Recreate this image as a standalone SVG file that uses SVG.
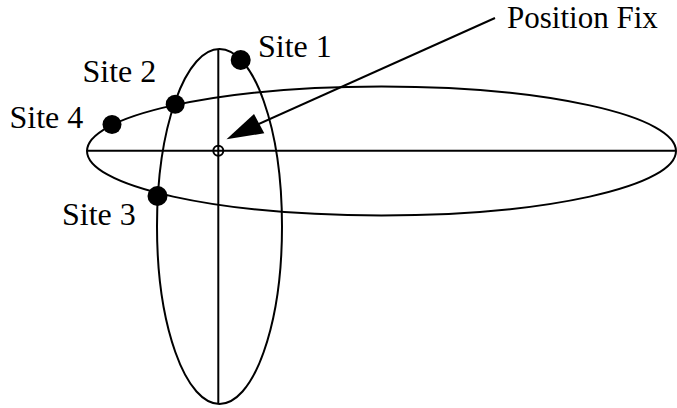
<svg xmlns="http://www.w3.org/2000/svg" width="677" height="408" viewBox="0 0 677 408">
<style>
.ln{fill:none;stroke:#000;stroke-width:2}
.dot{fill:#000}
.lbl{font-family:"Liberation Serif","Times New Roman",serif;font-size:32px;fill:#000}
</style>
<rect width="677" height="408" fill="#fff"/>
<g id="ellipses">
<ellipse id="ellipse-vertical" class="ln" cx="219.5" cy="226.5" rx="62.5" ry="177.5"/>
<ellipse id="ellipse-horizontal" class="ln" cx="381.5" cy="151" rx="294.5" ry="64.5"/>
</g>
<g id="connectors">
<line class="ln" x1="218.3" y1="49" x2="218.3" y2="404"/>
<line class="ln" x1="87" y1="150.7" x2="676" y2="150.7"/>
<line class="ln" x1="495" y1="18" x2="250" y2="128"/>
<polygon class="dot" points="226.5,139.3 254,114 264.3,133.3"/>
</g>
<g id="position-fix">
<circle class="ln" cx="218.3" cy="150.7" r="5"/>
<text class="lbl" x="507" y="28" style="font-size:31px">Position Fix</text>
</g>
<g id="site1">
<circle class="dot" cx="240.7" cy="60" r="10"/>
<text class="lbl" x="258" y="57">Site 1</text>
</g>
<g id="site2">
<circle class="dot" cx="175.2" cy="104.3" r="9.5"/>
<text class="lbl" x="82.5" y="82">Site 2</text>
</g>
<g id="site4">
<circle class="dot" cx="112" cy="124.5" r="9.5"/>
<text class="lbl" x="9.5" y="128">Site 4</text>
</g>
<g id="site3">
<circle class="dot" cx="157.5" cy="196" r="10"/>
<text class="lbl" x="62" y="225">Site 3</text>
</g>
</svg>
